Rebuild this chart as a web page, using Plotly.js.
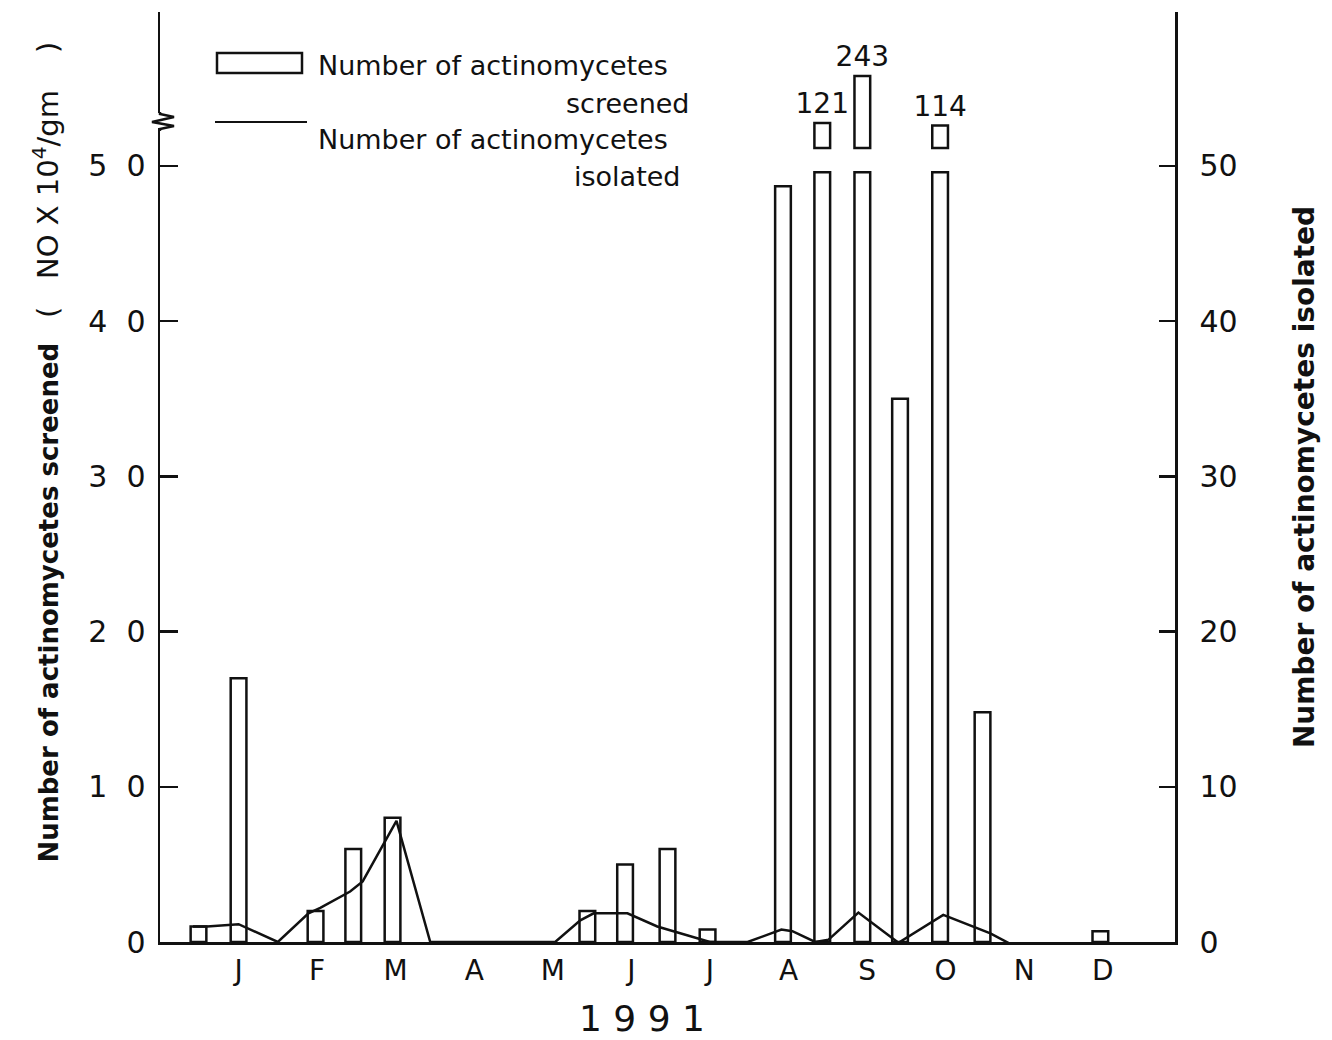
<!DOCTYPE html>
<html>
<head>
<meta charset="utf-8">
<script src="https://cdn.plot.ly/plotly-3.0.1.min.js"></script>
<style>
  html, body { margin: 0; padding: 0; background: #ffffff; }
  #chart { width: 1332px; height: 1040px; }
</style>
</head>
<body>
<div id="chart"></div>
<script>
// ---- Data ----
const monthLabels = ['J','F','M','A','M','J','J','A','S','O','N','D'];
const monthPositions = [1,2,3,4,5,6,7,8,9,10,11,12];

// sampling dates (in month units, 1 = January) and number screened (x10^4 / gm)
const screenedDates = [0.49, 1.0, 1.98, 2.46, 2.96, 5.44, 5.92, 6.46, 6.97, 7.93, 8.43, 8.94, 9.42, 9.93, 10.47, 11.97];
const screenedValues = [1, 17, 2, 6, 8, 2, 5, 6, 0.8, 48.7, 121, 243, 35, 114, 14.8, 0.7];

// number of actinomycetes isolated (line)
const isolatedDates = [0.42, 0.6, 1.0, 1.5, 1.89, 2.04, 2.42, 2.58, 3.01, 3.44, 5.03, 5.35, 5.52, 5.95, 6.33, 7.0, 7.48, 7.91, 8.05, 8.34, 8.51, 8.89, 9.40, 9.97, 10.57, 10.89];
const isolatedValues = [1.0, 1.0, 1.15, 0, 1.85, 2.2, 3.25, 3.9, 7.8, 0, 0, 1.4, 1.85, 1.85, 1.0, 0, 0, 0.8, 0.7, 0, 0.15, 1.9, -0.05, 1.75, 0.55, -0.3];

const leftTickVals = [0, 10, 20, 30, 40, 50];
const leftTickText = ['0', '1  0', '2  0', '3  0', '4  0', '5  0'];
const rightTickText = ['0', '10', '20', '30', '40', '50'];

// ---- Axis-break handling ----
const breakCap = 49.6;          // lower pieces of broken bars stop here
const brokenBase = 56;          // start of the upper (broken) scale
const lowerDisplay = screenedValues.map(v => Math.min(v, breakCap));
const upperDates = [], upperValues = [], upperText = [];
screenedValues.forEach((v, i) => {
  if (v > 50) { upperDates.push(screenedDates[i]); upperValues.push(v); upperText.push(String(v)); }
});

const FONT = 'DejaVu Sans, Liberation Sans, sans-serif';
const BLACK = '#111111';
const NB = '\u00a0';
const ZW = '\u200b';

const barStyle = { color: '#ffffff', line: { color: BLACK, width: 2.5 } };

const traces = [
  {
    type: 'bar', x: screenedDates, y: lowerDisplay, width: 0.2,
    marker: barStyle, xaxis: 'x', yaxis: 'y', showlegend: false, hoverinfo: 'skip'
  },
  {
    type: 'bar', x: upperDates, y: upperValues.map(v => v - brokenBase), base: brokenBase, width: 0.2,
    marker: barStyle, xaxis: 'x', yaxis: 'y3', showlegend: false,
    text: upperText, textposition: 'outside', cliponaxis: false, constraintext: 'none',
    textfont: { family: FONT, size: 28, color: BLACK }, hoverinfo: 'skip'
  },
  {
    type: 'scatter', mode: 'lines', x: isolatedDates, y: isolatedValues,
    line: { color: BLACK, width: 2.5 }, xaxis: 'x', yaxis: 'y2', showlegend: false, cliponaxis: false
  }
];

function px2x(px) { return (px - 160) / 1015; }
function px2y(py) { return (942 - py) / 930; }

const leftTitle = ZW + NB.repeat(6) + '<b>Number of actinomycetes screened</b>' + NB.repeat(3) +
  '<span style="font-size:29px">(' + NB.repeat(3) + 'NO X 10<sup>4</sup>/gm' + NB.repeat(4) + ')</span>';

const layout = {
  width: 1332, height: 1040,
  margin: { l: 160, r: 157, t: 12, b: 98 },
  paper_bgcolor: '#ffffff', plot_bgcolor: 'rgba(0,0,0,0)',
  font: { family: FONT, color: BLACK },
  showlegend: false,
  barmode: 'overlay',
  xaxis: {
    range: [0, 12.92], tickvals: monthPositions, ticktext: monthLabels,
    showline: true, linecolor: BLACK, linewidth: 2.5, ticks: '', showgrid: false, zeroline: false,
    tickfont: { family: FONT, size: 28, color: BLACK }, ticklabelstandoff: 2, fixedrange: true
  },
  yaxis: {
    range: [0, 59.92], tickvals: leftTickVals, ticktext: leftTickText,
    showline: true, linecolor: BLACK, linewidth: 2.5, ticks: 'inside', ticklen: 18, tickwidth: 2.5, tickcolor: BLACK,
    showgrid: false, zeroline: false, tickfont: { family: FONT, size: 30, color: BLACK },
    ticklabelstandoff: 6,
    title: { text: leftTitle, font: { family: FONT, size: 26, color: BLACK }, standoff: 22 }
  },
  yaxis2: {
    overlaying: 'y', side: 'right', range: [0, 59.92], tickvals: leftTickVals, ticktext: rightTickText,
    showline: true, linecolor: BLACK, linewidth: 2.5, ticks: 'inside', ticklen: 16, tickwidth: 2.5, tickcolor: BLACK,
    showgrid: false, zeroline: false, tickfont: { family: FONT, size: 30, color: BLACK },
    ticklabelstandoff: 16,
    title: { text: '<b>Number of actinomycetes isolated</b>', font: { family: FONT, size: 28, color: BLACK }, standoff: 58 }
  },
  yaxis3: {
    overlaying: 'y', range: [-2006, 409], visible: false, showticklabels: false, showgrid: false, zeroline: false
  },
  shapes: [
    // axis break on the left axis
    { type: 'rect', xref: 'paper', yref: 'paper', x0: px2x(154), x1: px2x(166), y0: px2y(128), y1: px2y(113),
      fillcolor: '#ffffff', line: { width: 0 }, layer: 'above' },
    { type: 'path', xref: 'paper', yref: 'paper', layer: 'above',
      path: 'M ' + px2x(160) + ' ' + px2y(112) + ' L ' + px2x(160) + ' ' + px2y(114) + ' L ' + px2x(174) + ' ' + px2y(117) +
            ' L ' + px2x(152) + ' ' + px2y(122) + ' L ' + px2x(174) + ' ' + px2y(126) + ' L ' + px2x(160) + ' ' + px2y(129) +
            ' L ' + px2x(160) + ' ' + px2y(131),
      line: { color: BLACK, width: 2.5 } },
    // custom legend keys
    { type: 'rect', xref: 'paper', yref: 'paper', x0: px2x(217), x1: px2x(302), y0: px2y(73), y1: px2y(53),
      fillcolor: '#ffffff', line: { color: BLACK, width: 2.5 } },
    { type: 'line', xref: 'paper', yref: 'paper', x0: px2x(215), x1: px2x(307), y0: px2y(122), y1: px2y(122),
      line: { color: BLACK, width: 2 } }
  ],
  annotations: [
    { xref: 'paper', yref: 'paper', x: px2x(316), y: px2y(65), xanchor: 'left', yanchor: 'middle', showarrow: false,
      text: 'Number of actinomycetes', font: { family: FONT, size: 27, color: BLACK } },
    { xref: 'paper', yref: 'paper', x: px2x(692), y: px2y(103), xanchor: 'right', yanchor: 'middle', showarrow: false,
      text: 'screened', font: { family: FONT, size: 27, color: BLACK } },
    { xref: 'paper', yref: 'paper', x: px2x(316), y: px2y(139), xanchor: 'left', yanchor: 'middle', showarrow: false,
      text: 'Number of actinomycetes', font: { family: FONT, size: 27, color: BLACK } },
    { xref: 'paper', yref: 'paper', x: px2x(682), y: px2y(177), xanchor: 'right', yanchor: 'middle', showarrow: false,
      text: 'isolated', font: { family: FONT, size: 27, color: BLACK } },
    { xref: 'paper', yref: 'paper', x: px2x(642), y: px2y(1018), xanchor: 'center', yanchor: 'middle', showarrow: false,
      text: '1 9 9 1', font: { family: FONT, size: 36, color: BLACK } }
  ]
};

Plotly.newPlot('chart', traces, layout, { displayModeBar: false, staticPlot: true });
</script>
</body>
</html>
